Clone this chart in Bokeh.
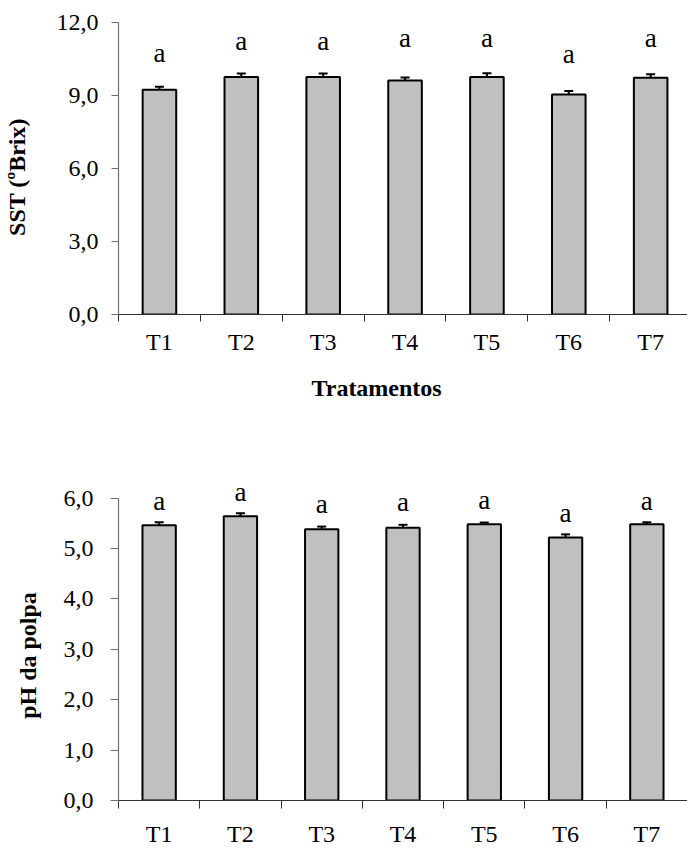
from bokeh.plotting import figure
from bokeh.models import FixedTicker, Range1d, ColumnDataSource, Whisker, TeeHead, Title, LabelSet
from bokeh.layouts import column
from bokeh.core.properties import value
from bokeh.embed import file_html
from bokeh.resources import INLINE

# ---- data ----
treatments = ["T1", "T2", "T3", "T4", "T5", "T6", "T7"]
sst_values = [9.25, 9.77, 9.77, 9.63, 9.77, 9.05, 9.74]
sst_errors = [0.12, 0.14, 0.14, 0.12, 0.15, 0.14, 0.14]
sst_letters = ["a", "a", "a", "a", "a", "a", "a"]
sst_letter_y = [10.38, 10.88, 10.88, 11.0, 11.0, 10.36, 11.0]
sst_ticks = [0, 3, 6, 9, 12]
sst_tick_labels = ["0,0", "3,0", "6,0", "9,0", "12,0"]

ph_values = [5.46, 5.64, 5.38, 5.41, 5.48, 5.22, 5.48]
ph_errors = [0.06, 0.06, 0.055, 0.06, 0.035, 0.06, 0.04]
ph_letters = ["a", "a", "a", "a", "a", "a", "a"]
ph_letter_y = [5.76, 5.94, 5.70, 5.75, 5.79, 5.52, 5.77]
ph_ticks = [0, 1, 2, 3, 4, 5, 6]
ph_tick_labels = ["0,0", "1,0", "2,0", "3,0", "4,0", "5,0", "6,0"]

x_title = "Tratamentos"
sst_title = "SST (ºBrix)"
ph_title = "pH da polpa"

SERIF = "Liberation Serif"
NBSP = "\u00a0"


def make_chart(vals, errs, letters, letter_y, yticks, ylabels, ytitle,
               width, height, y_end, x_end, left, top, bottom, ylab_standoff,
               tick_len, ytick_standoff, xlab_standoff):
    n = len(treatments)
    xs = [i + 0.5 for i in range(n)]
    src = ColumnDataSource(dict(
        x=xs, top=vals, upper=[v + e for v, e in zip(vals, errs)],
        lower=[v - e for v, e in zip(vals, errs)], lt=letters, ly=letter_y))
    p = figure(width=width, height=height, output_backend="svg", toolbar_location=None,
               x_range=Range1d(0, x_end), y_range=Range1d(0, y_end),
               min_border_left=left, min_border_right=0, min_border_top=top,
               min_border_bottom=bottom)
    p.outline_line_color = None
    p.xgrid.visible = False
    p.ygrid.visible = False
    p.background_fill_color = "white"
    p.border_fill_color = "white"

    p.vbar(x="x", top="top", width=0.41, bottom=0, source=src,
           fill_color="#c0c0c0", line_color="black", line_width=2)
    p.add_layout(Whisker(source=src, base="x", upper="upper", lower="lower",
                         line_color="black", line_width=2,
                         upper_head=TeeHead(size=9, line_color="black", line_width=2),
                         lower_head=TeeHead(size=9, line_color="black", line_width=2)))
    p.add_layout(LabelSet(x="x", y="ly", text="lt", source=src,
                          text_font=value(SERIF), text_font_size=value("27px"),
                          text_align="center", text_baseline="alphabetic",
                          text_color="black"))

    # x axis
    xa = p.xaxis[0]
    xa.ticker = FixedTicker(ticks=xs, minor_ticks=list(range(n + 1)))
    xa.major_label_overrides = {x: t for x, t in zip(xs, treatments)}
    xa.major_tick_line_color = None
    xa.major_tick_out = 0
    xa.major_tick_in = 0
    xa.minor_tick_out = tick_len
    xa.minor_tick_in = 0
    xa.minor_tick_line_color = "#303030"
    xa.axis_line_color = "#303030"
    xa.axis_line_width = 1.2
    xa.major_label_standoff = xlab_standoff
    xa.major_label_text_font = SERIF
    xa.major_label_text_font_size = "24px"
    xa.major_label_text_color = "black"

    # y axis
    ya = p.yaxis[0]
    ya.ticker = FixedTicker(ticks=yticks, minor_ticks=[])
    ya.major_label_overrides = {t: l for t, l in zip(yticks, ylabels)}
    ya.bounds = (0, yticks[-1])
    ya.major_tick_out = tick_len
    ya.major_tick_in = 0
    ya.major_tick_line_color = "#707070"
    ya.axis_line_color = "#707070"
    ya.axis_line_width = 1.2
    ya.major_label_standoff = ytick_standoff
    ya.major_label_text_font = SERIF
    ya.major_label_text_font_size = "24px"
    ya.major_label_text_color = "black"
    # trailing no-break spaces shift the centred title slightly down the axis
    ya.axis_label = ytitle + NBSP * 4
    ya.axis_label_text_font = SERIF
    ya.axis_label_text_font_style = "bold"
    ya.axis_label_text_font_size = "24px"
    ya.axis_label_text_color = "black"
    ya.axis_label_standoff = ylab_standoff
    return p


top = make_chart(sst_values, sst_errors, sst_letters, sst_letter_y, sst_ticks,
                 sst_tick_labels, sst_title, width=687, height=440, y_end=12.30,
                 x_end=6.95, left=115, top=15, bottom=126, ylab_standoff=24,
                 tick_len=7, ytick_standoff=13, xlab_standoff=7)
top.add_layout(Title(text=x_title, align="left", offset=193, text_font=SERIF,
                     text_font_style="bold", text_font_size="24px",
                     vertical_align="top", text_color="black", standoff=35), "below")

bottom = make_chart(ph_values, ph_errors, ph_letters, ph_letter_y, ph_ticks,
                    ph_tick_labels, ph_title, width=687, height=409, y_end=6.23,
                    x_end=7.0, left=106, top=46, bottom=39, ylab_standoff=20,
                    tick_len=8, ytick_standoff=17, xlab_standoff=12)

layout = column(top, bottom)
open("out.html", "w").write(file_html(layout, INLINE))
